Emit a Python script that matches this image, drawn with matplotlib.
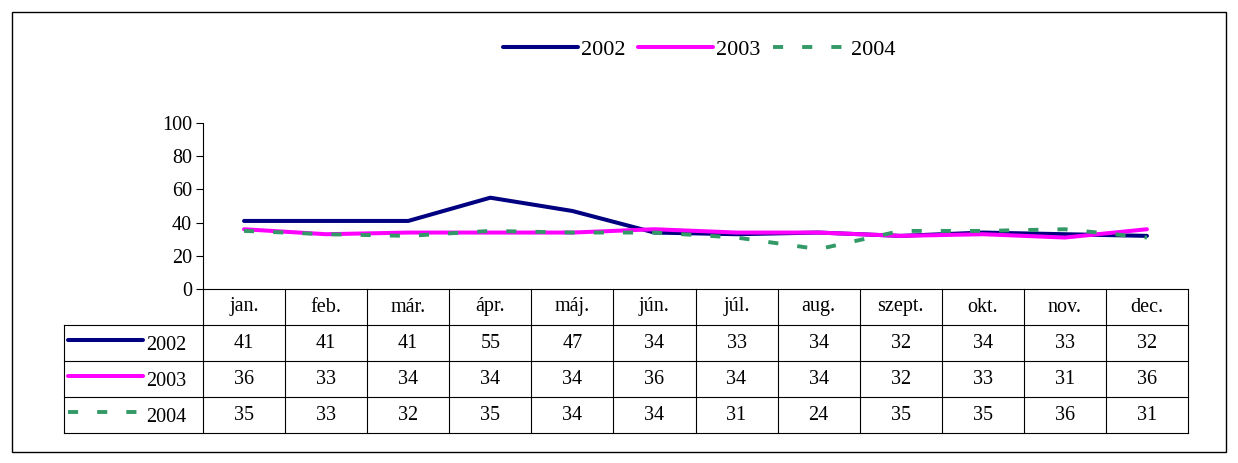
import numpy as np
import matplotlib
matplotlib.use("Agg")
from matplotlib import pyplot as plt
from matplotlib.patches import Rectangle
from matplotlib.lines import Line2D

months = ['jan.', 'feb.', 'már.', 'ápr.', 'máj.', 'jún.', 'júl.', 'aug.', 'szept.', 'okt.', 'nov.', 'dec.']
years = ['2002', '2003', '2004']
v2002 = [41, 41, 41, 55, 47, 34, 33, 34, 32, 34, 33, 32]
v2003 = [36, 33, 34, 34, 34, 36, 34, 34, 32, 33, 31, 36]
v2004 = [35, 33, 32, 35, 34, 34, 31, 24, 35, 35, 36, 31]

plt.rcParams['font.family'] = ['Liberation Serif', 'DejaVu Serif']
plt.rcParams['font.size'] = 14.5

W, H = 1238, 463
fig = plt.figure(figsize=(W / 100, H / 100), dpi=100)

def fx(px):
    return px / W

def fy(py):
    return 1 - py / H

styles = [
    dict(color='#000080', lw=2.9, ls='-', solid_capstyle='round'),
    dict(color='#FF00FF', lw=2.9, ls='-', solid_capstyle='round'),
    dict(color='#339966', lw=2.8, ls=(0, (2.6, 4.9)), dash_capstyle='butt'),
]
series = [v2002, v2003, v2004]

# outer frame
fig.patches.append(Rectangle((fx(12), fy(452)), fx(1226) - fx(12), fy(12) - fy(452),
                             transform=fig.transFigure, fill=False, lw=1.0, ec='black'))

ax = fig.add_axes([fx(203), fy(289), fx(1188) - fx(203), fy(123) - fy(289)])
x = np.arange(len(months))
for vals, st in zip(series, styles):
    ax.plot(x, vals, **st)
ax.set_xlim(-0.5, 11.5)
ax.set_ylim(0, 100)
ax.set_yticks([0, 20, 40, 60, 80, 100])
ax.set_xticks([])
for s in ['top', 'right']:
    ax.spines[s].set_visible(False)
ax.spines['left'].set_linewidth(0.8)
ax.spines['bottom'].set_linewidth(0.8)
ax.tick_params(axis='y', length=5, width=0.8, pad=3)

# data table below the plot
tab = fig.add_axes([fx(203), fy(433), fx(1188) - fx(203), fy(289) - fy(433)])
tab.set_xlim(-0.5, 11.5)
tab.set_ylim(4, 0)
tab.axis('off')
lc = dict(color='black', lw=0.8, clip_on=False)
colw = 12 / (1188 - 203)
xl = -0.5 - (203 - 64) * colw
for i in range(13):
    tab.plot([i - 0.5, i - 0.5], [0, 4], **lc)
for r in range(1, 5):
    tab.plot([xl, 11.5], [r, r], **lc)
tab.plot([xl, xl], [1, 4], **lc)
for i, m in enumerate(months):
    tab.text(i, 0.5, m, ha='center', va='center')
for r, (vals, st, yr) in enumerate(zip(series, styles, years)):
    yy = r + 1.5
    for i, v in enumerate(vals):
        tab.text(i, yy, str(v), ha='center', va='center')
    tab.plot([xl + 4 * colw, xl + 79 * colw], [yy - 0.07, yy - 0.07], clip_on=False, **st)
    tab.text(xl + 82 * colw, yy + 0.07, yr, ha='left', va='center')

handles = [Line2D([], [], **st) for st in styles]
fig.legend(handles, years, loc='center', bbox_to_anchor=(fx(699), fy(50)), ncol=3,
           frameon=False, fontsize=16, handlelength=3.4, handletextpad=0.12,
           columnspacing=0.55)

fig.savefig('out.png', dpi=100)
